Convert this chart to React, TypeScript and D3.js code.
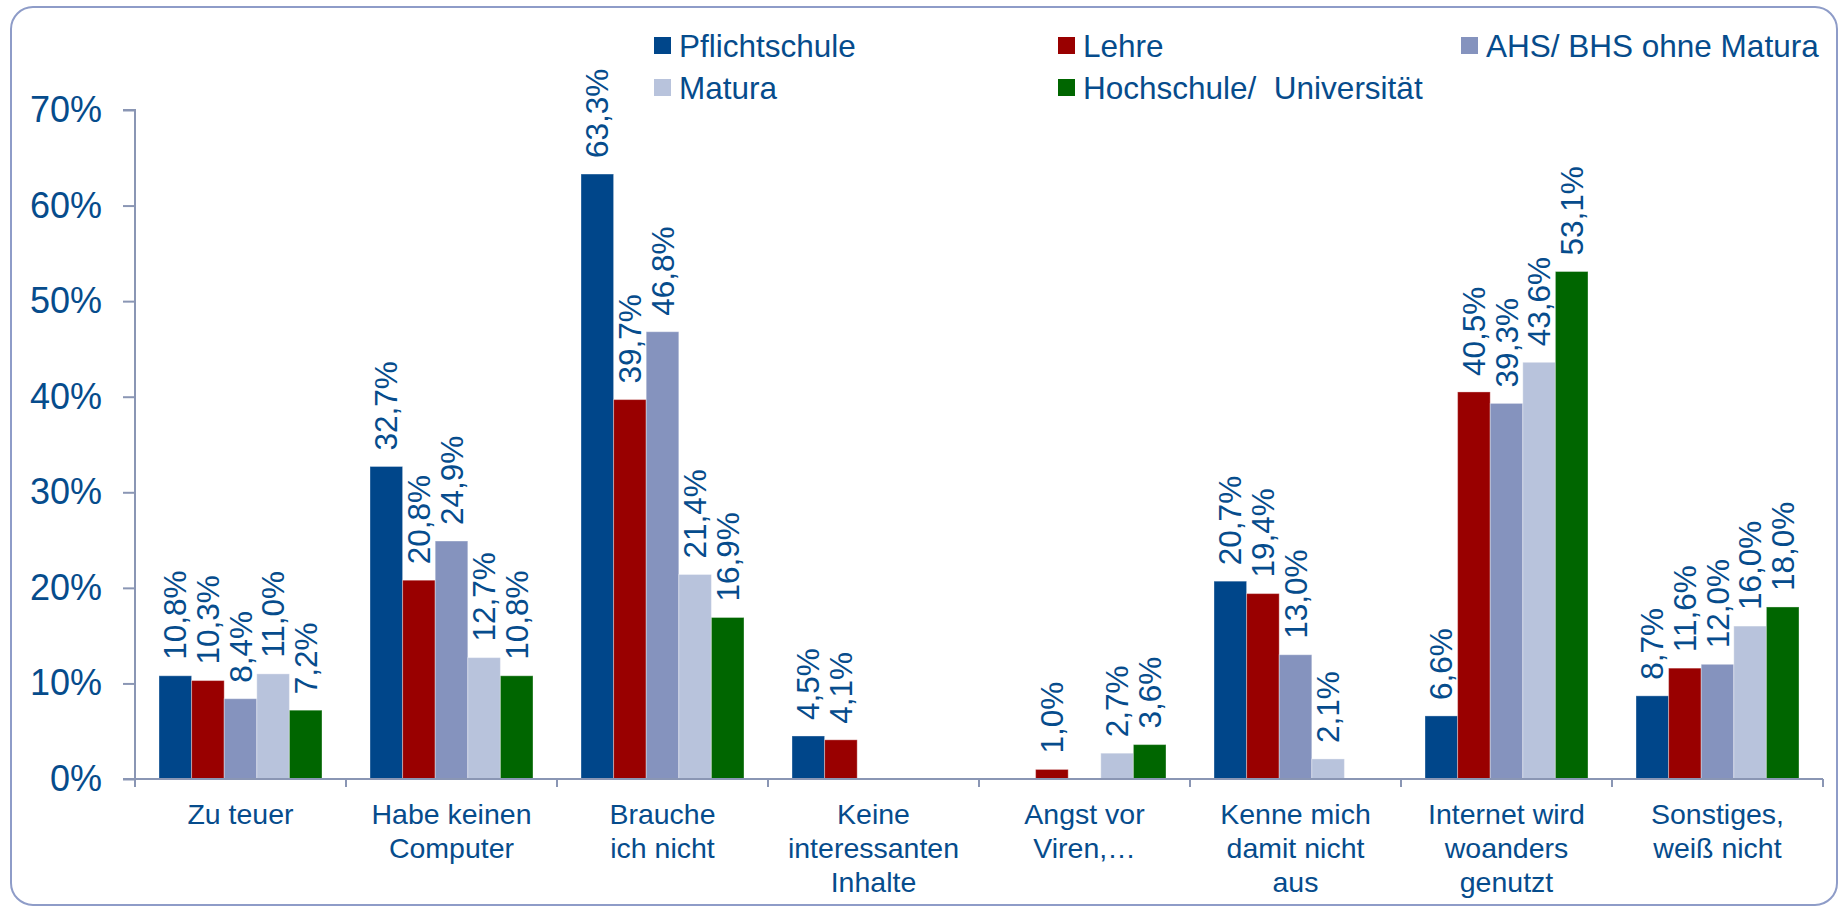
import { useEffect, useRef } from 'react'
import * as d3 from 'd3'

// ── data ─────────────────────────────────────────────────────────────────────
const CATEGORIES = [
  'Zu teuer',
  'Habe keinen\nComputer',
  'Brauche\nich nicht',
  'Keine\ninteressanten\nInhalte',
  'Angst vor\nViren,…',
  'Kenne mich\ndamit nicht\naus',
  'Internet wird\nwoanders\ngenutzt',
  'Sonstiges,\nweiß nicht',
]
const SERIES = ['Pflichtschule', 'Lehre', 'AHS/ BHS ohne Matura', 'Matura', 'Hochschule/  Universität']
const PFLICHTSCHULE = [10.8, 32.7, 63.3, 4.5, null, 20.7, 6.6, 8.7]
const LEHRE         = [10.3, 20.8, 39.7, 4.1, 1.0, 19.4, 40.5, 11.6]
const AHS_BHS       = [8.4, 24.9, 46.8, null, null, 13.0, 39.3, 12.0]
const MATURA        = [11.0, 12.7, 21.4, null, 2.7, 2.1, 43.6, 16.0]
const HOCHSCHULE    = [7.2, 10.8, 16.9, null, 3.6, null, 53.1, 18.0]
const Y_TICKS = [0, 10, 20, 30, 40, 50, 60, 70]

// ── styling ──────────────────────────────────────────────────────────────────
const W = 1845
const H = 908
const M = { left: 135, right: 1823, top: 110, bottom: 779 }
const COLORS = ['#00468A', '#990000', '#8593BE', '#B8C3DC', '#006600']
const CTEXT = '#064C8C'
const CAXIS = '#8A96B4'
const CBORDER = '#8E9CC8'
const FONT = '"Liberation Sans", Arial, sans-serif'

// legend grid: [col x, row baseline]
const LEG_COLS = [654, 1058, 1461]
const LEG_ROWS = [57, 99]

const VALUES = [PFLICHTSCHULE, LEHRE, AHS_BHS, MATURA, HOCHSCHULE]

export default function App() {
  const ref = useRef<SVGSVGElement>(null)

  useEffect(() => {
    if (!ref.current) return
    const svg = d3.select(ref.current)
    svg.selectAll('*').remove()

    const x0 = d3.scaleBand<number>().domain(d3.range(CATEGORIES.length)).range([M.left, M.right])
    const bw = x0.bandwidth()
    const x1 = d3.scaleBand<number>().domain(d3.range(SERIES.length)).range([24, bw - 24])
    const y = d3.scaleLinear().domain([0, 70]).range([M.bottom, M.top])

    // frame
    svg.append('rect')
      .attr('x', 11).attr('y', 7).attr('width', 1826).attr('height', 898).attr('rx', 22)
      .attr('fill', '#fff').attr('stroke', CBORDER).attr('stroke-width', 2)

    // y axis
    svg.append('g')
      .attr('transform', `translate(${M.left},0)`)
      .call(d3.axisLeft(y).tickValues(Y_TICKS).tickSize(12).tickPadding(21).tickFormat(d => `${d}%`))
      .call(g => g.select('.domain').attr('stroke', CAXIS).attr('stroke-width', 2).attr('d', `M-12,${M.top}H0V${M.bottom}`))
      .call(g => g.selectAll('line').attr('stroke', CAXIS).attr('stroke-width', 2))
      .call(g => g.selectAll('text').attr('fill', CTEXT).attr('font-size', 36).attr('font-family', FONT))

    // bars
    const groups = svg.append('g')
    VALUES.forEach((vals, s) => {
      groups.append('g')
        .selectAll('rect')
        .data(vals.map((v, i) => ({ v, i })).filter(d => d.v != null))
        .join('rect')
          .attr('x', d => x0(d.i)! + x1(s)!)
          .attr('width', x1.bandwidth())
          .attr('y', d => y(d.v as number))
          .attr('height', d => M.bottom - y(d.v as number))
          .attr('fill', COLORS[s])
          .attr('stroke', '#fff').attr('stroke-opacity', 0.35).attr('stroke-width', 1)
    })

    // x axis line + boundary ticks
    svg.append('line')
      .attr('x1', M.left - 12).attr('x2', M.right).attr('y1', M.bottom).attr('y2', M.bottom)
      .attr('stroke', CAXIS).attr('stroke-width', 2)
    svg.append('g')
      .selectAll('line')
      .data([...d3.range(CATEGORIES.length).map(i => x0(i)!), M.right])
      .join('line')
        .attr('x1', d => d).attr('x2', d => d)
        .attr('y1', M.bottom).attr('y2', M.bottom + 8)
        .attr('stroke', CAXIS).attr('stroke-width', 2)

    // category labels
    svg.append('g')
      .selectAll('text')
      .data(CATEGORIES)
      .join('text')
        .attr('x', (_, i) => x0(i)! + bw / 2)
        .attr('y', 824)
        .attr('text-anchor', 'middle')
        .attr('fill', CTEXT).attr('font-size', 28.5).attr('font-family', FONT)
        .each(function (d) {
          const t = d3.select(this)
          d.split('\n').forEach((ln, k) => {
            t.append('tspan').attr('x', t.attr('x')).attr('dy', k === 0 ? 0 : 34).text(ln)
          })
        })

    // value labels (rotated)
    VALUES.forEach((vals, s) => {
      svg.append('g')
        .selectAll('text')
        .data(vals.map((v, i) => ({ v, i })).filter(d => d.v != null))
        .join('text')
          .attr('transform', d => `translate(${x0(d.i)! + x1(s)! + x1.bandwidth() / 2},${y(d.v as number) - 16}) rotate(-90)`)
          .attr('dominant-baseline', 'central')
          .attr('fill', CTEXT).attr('font-size', 31.5).attr('font-family', FONT)
          .text(d => `${(d.v as number).toFixed(1).replace('.', ',')}%`)
    })

    // legend
    const leg = svg.append('g')
    SERIES.forEach((name, s) => {
      const cx = LEG_COLS[s % 3]
      const by = LEG_ROWS[Math.floor(s / 3)]
      leg.append('rect')
        .attr('x', cx).attr('y', by - 20).attr('width', 17).attr('height', 17)
        .attr('fill', COLORS[s])
      leg.append('text')
        .attr('x', cx + 25).attr('y', by)
        .attr('fill', CTEXT).attr('font-size', 31.5).attr('font-family', FONT)
        .style('white-space', 'pre')
        .text(name)
    })
  }, [])

  return (
    <svg
      ref={ref}
      width={W}
      height={H}
      viewBox={`0 0 ${W} ${H}`}
      style={{ position: 'absolute', left: 0, top: 0, display: 'block', background: '#fff' }}
    />
  )
}
